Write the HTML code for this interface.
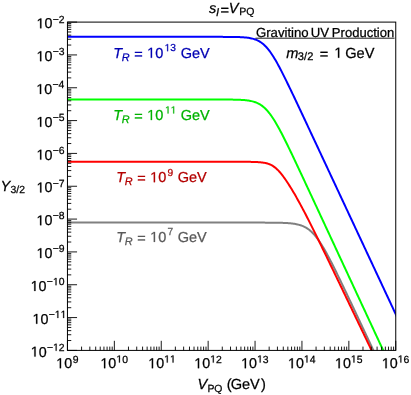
<!DOCTYPE html><html><head><meta charset="utf-8"><style>html,body{margin:0;padding:0;background:#fff}svg{display:block;will-change:transform}text{font-family:"Liberation Sans",sans-serif;text-rendering:geometricPrecision}.i{font-style:italic}</style></head><body>
<svg width="411" height="395" viewBox="0 0 411 395">
<rect width="411" height="395" fill="#fff"/>
<defs><clipPath id="c"><rect x="67.45" y="22.10" width="328.30" height="328.30"/></clipPath></defs>
<polyline clip-path="url(#c)" fill="none" stroke="#808080" stroke-width="2.0" stroke-linejoin="round" points="67.45,222.60 68.45,222.60 69.45,222.60 70.45,222.60 71.45,222.60 72.45,222.60 73.45,222.60 74.45,222.60 75.45,222.60 76.45,222.60 77.45,222.60 78.45,222.60 79.45,222.60 80.45,222.60 81.45,222.60 82.45,222.60 83.45,222.60 84.45,222.60 85.45,222.60 86.45,222.60 87.45,222.60 88.45,222.60 89.45,222.60 90.45,222.60 91.45,222.60 92.45,222.60 93.45,222.60 94.45,222.60 95.45,222.60 96.45,222.60 97.45,222.60 98.45,222.60 99.45,222.60 100.45,222.60 101.45,222.60 102.45,222.60 103.45,222.60 104.45,222.60 105.45,222.60 106.45,222.60 107.45,222.60 108.45,222.60 109.45,222.60 110.45,222.60 111.45,222.60 112.45,222.60 113.45,222.60 114.45,222.60 115.45,222.60 116.45,222.60 117.45,222.60 118.45,222.60 119.45,222.60 120.45,222.60 121.45,222.60 122.45,222.60 123.45,222.60 124.45,222.60 125.45,222.60 126.45,222.60 127.45,222.60 128.45,222.60 129.45,222.60 130.45,222.60 131.45,222.60 132.45,222.60 133.45,222.60 134.45,222.60 135.45,222.60 136.45,222.60 137.45,222.60 138.45,222.60 139.45,222.60 140.45,222.60 141.45,222.60 142.45,222.60 143.45,222.60 144.45,222.60 145.45,222.60 146.45,222.60 147.45,222.60 148.45,222.60 149.45,222.60 150.45,222.60 151.45,222.60 152.45,222.60 153.45,222.60 154.45,222.60 155.45,222.60 156.45,222.60 157.45,222.60 158.45,222.60 159.45,222.60 160.45,222.60 161.45,222.60 162.45,222.60 163.45,222.60 164.45,222.60 165.45,222.60 166.45,222.60 167.45,222.60 168.45,222.60 169.45,222.60 170.45,222.60 171.45,222.60 172.45,222.60 173.45,222.60 174.45,222.60 175.45,222.60 176.45,222.60 177.45,222.60 178.45,222.60 179.45,222.60 180.45,222.60 181.45,222.60 182.45,222.60 183.45,222.60 184.45,222.60 185.45,222.60 186.45,222.60 187.45,222.60 188.45,222.60 189.45,222.60 190.45,222.60 191.45,222.60 192.45,222.60 193.45,222.60 194.45,222.60 195.45,222.60 196.45,222.60 197.45,222.60 198.45,222.60 199.45,222.60 200.45,222.60 201.45,222.60 202.45,222.60 203.45,222.60 204.45,222.60 205.45,222.60 206.45,222.60 207.45,222.60 208.45,222.60 209.45,222.60 210.45,222.60 211.45,222.60 212.45,222.60 213.45,222.60 214.45,222.60 215.45,222.60 216.45,222.60 217.45,222.60 218.45,222.60 219.45,222.60 220.45,222.60 221.45,222.60 222.45,222.60 223.45,222.60 224.45,222.60 225.45,222.60 226.45,222.60 227.45,222.60 228.45,222.60 229.45,222.60 230.45,222.60 231.45,222.60 232.45,222.60 233.45,222.60 234.45,222.60 235.45,222.60 236.45,222.60 237.45,222.60 238.45,222.60 239.45,222.60 240.45,222.60 241.45,222.60 242.45,222.60 243.45,222.60 244.45,222.60 245.45,222.60 246.45,222.60 247.45,222.60 248.45,222.60 249.45,222.60 250.45,222.60 251.45,222.60 252.45,222.60 253.45,222.61 254.45,222.61 255.45,222.61 256.45,222.61 257.45,222.61 258.45,222.61 259.45,222.61 260.45,222.61 261.45,222.62 262.45,222.62 263.45,222.62 264.45,222.62 265.45,222.63 266.45,222.63 267.45,222.63 268.45,222.64 269.45,222.64 270.45,222.65 271.45,222.66 272.45,222.67 273.45,222.68 274.45,222.69 275.45,222.70 276.45,222.71 277.45,222.73 278.45,222.75 279.45,222.77 280.45,222.79 281.45,222.82 282.45,222.85 283.45,222.89 284.45,222.93 285.45,222.98 286.45,223.03 287.45,223.09 288.45,223.16 289.45,223.24 290.45,223.33 291.45,223.43 292.45,223.55 293.45,223.68 294.45,223.82 295.45,223.99 296.45,224.18 297.45,224.40 298.45,224.64 299.45,224.91 300.45,225.22 301.45,225.56 302.45,225.94 303.45,226.37 304.45,226.84 305.45,227.37 306.45,227.95 307.45,228.59 308.45,229.28 309.45,230.05 310.45,230.88 311.45,231.78 312.45,232.75 313.45,233.79 314.45,234.90 315.45,236.08 316.45,237.33 317.45,238.65 318.45,240.03 319.45,241.48 320.45,242.99 321.45,244.55 322.45,246.17 323.45,247.84 324.45,249.56 325.45,251.31 326.45,253.11 327.45,254.94 328.45,256.80 329.45,258.70 330.45,260.61 331.45,262.56 332.45,264.52 333.45,266.50 334.45,268.50 335.45,270.52 336.45,272.54 337.45,274.58 338.45,276.63 339.45,278.69 340.45,280.75 341.45,282.83 342.45,284.91 343.45,286.99 344.45,289.08 345.45,291.18 346.45,293.27 347.45,295.37 348.45,297.48 349.45,299.58 350.45,301.69 351.45,303.80 352.45,305.92 353.45,308.03 354.45,310.14 355.45,312.26 356.45,314.38 357.45,316.50 358.45,318.61 359.45,320.73 360.45,322.85 361.45,324.97 362.45,327.09 363.45,329.22 364.45,331.34 365.45,333.46 366.45,335.58 367.45,337.70 368.45,339.83 369.45,341.95 370.45,344.07 371.45,346.20 372.45,348.32 373.45,350.44 374.45,352.57 375.45,354.69 376.45,356.81 377.45,358.94 378.45,361.06 379.45,363.18 380.45,365.31 381.45,367.43 382.45,369.55 383.45,371.68 384.45,373.80 385.45,375.93 386.45,378.05 387.45,380.17 388.45,382.30 389.45,384.42 390.45,386.55 391.45,388.67 392.45,390.79 393.45,392.92 394.45,395.04 395.45,397.17 396.45,399.29 397.45,401.41 398.45,403.54 399.45,405.66 400.45,407.79 401.45,409.91 402.45,412.03 403.45,414.16 404.45,416.28 405.45,418.41 406.45,420.53 407.45,422.65 408.45,424.78 409.45,426.90 410.45,429.03 411.45,431.15 412.45,433.27 413.45,435.40 414.45,437.52 415.45,439.65"/>
<polyline clip-path="url(#c)" fill="none" stroke="#ff0000" stroke-width="2.0" stroke-linejoin="round" points="67.45,161.70 68.45,161.70 69.45,161.70 70.45,161.70 71.45,161.70 72.45,161.70 73.45,161.70 74.45,161.70 75.45,161.70 76.45,161.70 77.45,161.70 78.45,161.70 79.45,161.70 80.45,161.70 81.45,161.70 82.45,161.70 83.45,161.70 84.45,161.70 85.45,161.70 86.45,161.70 87.45,161.70 88.45,161.70 89.45,161.70 90.45,161.70 91.45,161.70 92.45,161.70 93.45,161.70 94.45,161.70 95.45,161.70 96.45,161.70 97.45,161.70 98.45,161.70 99.45,161.70 100.45,161.70 101.45,161.70 102.45,161.70 103.45,161.70 104.45,161.70 105.45,161.70 106.45,161.70 107.45,161.70 108.45,161.70 109.45,161.70 110.45,161.70 111.45,161.70 112.45,161.70 113.45,161.70 114.45,161.70 115.45,161.70 116.45,161.70 117.45,161.70 118.45,161.70 119.45,161.70 120.45,161.70 121.45,161.70 122.45,161.70 123.45,161.70 124.45,161.70 125.45,161.70 126.45,161.70 127.45,161.70 128.45,161.70 129.45,161.70 130.45,161.70 131.45,161.70 132.45,161.70 133.45,161.70 134.45,161.70 135.45,161.70 136.45,161.70 137.45,161.70 138.45,161.70 139.45,161.70 140.45,161.70 141.45,161.70 142.45,161.70 143.45,161.70 144.45,161.70 145.45,161.70 146.45,161.70 147.45,161.70 148.45,161.70 149.45,161.70 150.45,161.70 151.45,161.70 152.45,161.70 153.45,161.70 154.45,161.70 155.45,161.70 156.45,161.70 157.45,161.70 158.45,161.70 159.45,161.70 160.45,161.70 161.45,161.70 162.45,161.70 163.45,161.70 164.45,161.70 165.45,161.70 166.45,161.70 167.45,161.70 168.45,161.70 169.45,161.70 170.45,161.70 171.45,161.70 172.45,161.70 173.45,161.70 174.45,161.70 175.45,161.70 176.45,161.70 177.45,161.70 178.45,161.70 179.45,161.70 180.45,161.70 181.45,161.70 182.45,161.70 183.45,161.70 184.45,161.70 185.45,161.70 186.45,161.70 187.45,161.70 188.45,161.70 189.45,161.70 190.45,161.70 191.45,161.70 192.45,161.70 193.45,161.70 194.45,161.70 195.45,161.70 196.45,161.70 197.45,161.70 198.45,161.70 199.45,161.70 200.45,161.70 201.45,161.70 202.45,161.70 203.45,161.70 204.45,161.70 205.45,161.70 206.45,161.70 207.45,161.70 208.45,161.70 209.45,161.70 210.45,161.70 211.45,161.70 212.45,161.70 213.45,161.70 214.45,161.70 215.45,161.70 216.45,161.70 217.45,161.70 218.45,161.71 219.45,161.71 220.45,161.71 221.45,161.71 222.45,161.71 223.45,161.71 224.45,161.71 225.45,161.71 226.45,161.71 227.45,161.71 228.45,161.71 229.45,161.72 230.45,161.72 231.45,161.72 232.45,161.72 233.45,161.72 234.45,161.73 235.45,161.73 236.45,161.73 237.45,161.74 238.45,161.74 239.45,161.75 240.45,161.75 241.45,161.76 242.45,161.76 243.45,161.77 244.45,161.78 245.45,161.79 246.45,161.80 247.45,161.81 248.45,161.83 249.45,161.85 250.45,161.86 251.45,161.89 252.45,161.91 253.45,161.94 254.45,161.97 255.45,162.01 256.45,162.06 257.45,162.11 258.45,162.17 259.45,162.25 260.45,162.33 261.45,162.43 262.45,162.55 263.45,162.69 264.45,162.86 265.45,163.06 266.45,163.29 267.45,163.56 268.45,163.87 269.45,164.24 270.45,164.67 271.45,165.16 272.45,165.72 273.45,166.35 274.45,167.06 275.45,167.84 276.45,168.71 277.45,169.65 278.45,170.67 279.45,171.76 280.45,172.91 281.45,174.13 282.45,175.40 283.45,176.73 284.45,178.10 285.45,179.52 286.45,180.98 287.45,182.48 288.45,184.02 289.45,185.59 290.45,187.19 291.45,188.82 292.45,190.48 293.45,192.16 294.45,193.87 295.45,195.61 296.45,197.37 297.45,199.15 298.45,200.95 299.45,202.77 300.45,204.62 301.45,206.48 302.45,208.35 303.45,210.25 304.45,212.16 305.45,214.08 306.45,216.02 307.45,217.96 308.45,219.92 309.45,221.90 310.45,223.88 311.45,225.87 312.45,227.86 313.45,229.87 314.45,231.88 315.45,233.90 316.45,235.93 317.45,237.96 318.45,240.00 319.45,242.04 320.45,244.08 321.45,246.13 322.45,248.19 323.45,250.24 324.45,252.30 325.45,254.36 326.45,256.43 327.45,258.49 328.45,260.56 329.45,262.63 330.45,264.70 331.45,266.77 332.45,268.85 333.45,270.92 334.45,273.00 335.45,275.08 336.45,277.15 337.45,279.23 338.45,281.31 339.45,283.39 340.45,285.47 341.45,287.55 342.45,289.64 343.45,291.72 344.45,293.80 345.45,295.88 346.45,297.97 347.45,300.05 348.45,302.14 349.45,304.22 350.45,306.30 351.45,308.39 352.45,310.47 353.45,312.56 354.45,314.64 355.45,316.73 356.45,318.81 357.45,320.90 358.45,322.99 359.45,325.07 360.45,327.16 361.45,329.24 362.45,331.33 363.45,333.41 364.45,335.50 365.45,337.59 366.45,339.67 367.45,341.76 368.45,343.84 369.45,345.93 370.45,348.02 371.45,350.10 372.45,352.19 373.45,354.27 374.45,356.36 375.45,358.45 376.45,360.53 377.45,362.62 378.45,364.71 379.45,366.79 380.45,368.88 381.45,370.97 382.45,373.05 383.45,375.14 384.45,377.22 385.45,379.31 386.45,381.40 387.45,383.48 388.45,385.57 389.45,387.66 390.45,389.74 391.45,391.83 392.45,393.91 393.45,396.00 394.45,398.09 395.45,400.17 396.45,402.26 397.45,404.35 398.45,406.43 399.45,408.52 400.45,410.61 401.45,412.69 402.45,414.78 403.45,416.87 404.45,418.95 405.45,421.04 406.45,423.12 407.45,425.21 408.45,427.30 409.45,429.38 410.45,431.47 411.45,433.56 412.45,435.64 413.45,437.73 414.45,439.82 415.45,441.90"/>
<polyline clip-path="url(#c)" fill="none" stroke="#00ff00" stroke-width="2.0" stroke-linejoin="round" points="67.45,99.50 68.45,99.50 69.45,99.50 70.45,99.50 71.45,99.50 72.45,99.50 73.45,99.50 74.45,99.50 75.45,99.50 76.45,99.50 77.45,99.50 78.45,99.50 79.45,99.50 80.45,99.50 81.45,99.50 82.45,99.50 83.45,99.50 84.45,99.50 85.45,99.50 86.45,99.50 87.45,99.50 88.45,99.50 89.45,99.50 90.45,99.50 91.45,99.50 92.45,99.50 93.45,99.50 94.45,99.50 95.45,99.50 96.45,99.50 97.45,99.50 98.45,99.50 99.45,99.50 100.45,99.50 101.45,99.50 102.45,99.50 103.45,99.50 104.45,99.50 105.45,99.50 106.45,99.50 107.45,99.50 108.45,99.50 109.45,99.50 110.45,99.50 111.45,99.50 112.45,99.50 113.45,99.50 114.45,99.50 115.45,99.50 116.45,99.50 117.45,99.50 118.45,99.50 119.45,99.50 120.45,99.50 121.45,99.50 122.45,99.50 123.45,99.50 124.45,99.50 125.45,99.50 126.45,99.50 127.45,99.50 128.45,99.50 129.45,99.50 130.45,99.50 131.45,99.50 132.45,99.50 133.45,99.50 134.45,99.50 135.45,99.50 136.45,99.50 137.45,99.50 138.45,99.50 139.45,99.50 140.45,99.50 141.45,99.50 142.45,99.50 143.45,99.50 144.45,99.50 145.45,99.50 146.45,99.50 147.45,99.50 148.45,99.50 149.45,99.50 150.45,99.50 151.45,99.50 152.45,99.50 153.45,99.50 154.45,99.50 155.45,99.50 156.45,99.50 157.45,99.50 158.45,99.50 159.45,99.50 160.45,99.50 161.45,99.50 162.45,99.50 163.45,99.50 164.45,99.50 165.45,99.50 166.45,99.50 167.45,99.50 168.45,99.50 169.45,99.50 170.45,99.50 171.45,99.50 172.45,99.50 173.45,99.50 174.45,99.50 175.45,99.50 176.45,99.50 177.45,99.50 178.45,99.50 179.45,99.50 180.45,99.50 181.45,99.50 182.45,99.50 183.45,99.50 184.45,99.50 185.45,99.50 186.45,99.50 187.45,99.50 188.45,99.50 189.45,99.50 190.45,99.50 191.45,99.50 192.45,99.50 193.45,99.50 194.45,99.50 195.45,99.50 196.45,99.50 197.45,99.50 198.45,99.50 199.45,99.50 200.45,99.50 201.45,99.50 202.45,99.50 203.45,99.50 204.45,99.50 205.45,99.50 206.45,99.50 207.45,99.50 208.45,99.50 209.45,99.50 210.45,99.51 211.45,99.51 212.45,99.51 213.45,99.51 214.45,99.51 215.45,99.51 216.45,99.51 217.45,99.51 218.45,99.52 219.45,99.52 220.45,99.52 221.45,99.52 222.45,99.53 223.45,99.53 224.45,99.54 225.45,99.54 226.45,99.55 227.45,99.56 228.45,99.57 229.45,99.58 230.45,99.59 231.45,99.60 232.45,99.61 233.45,99.63 234.45,99.65 235.45,99.68 236.45,99.70 237.45,99.73 238.45,99.77 239.45,99.81 240.45,99.86 241.45,99.91 242.45,99.97 243.45,100.04 244.45,100.12 245.45,100.22 246.45,100.33 247.45,100.45 248.45,100.59 249.45,100.75 250.45,100.93 251.45,101.14 252.45,101.37 253.45,101.64 254.45,101.94 255.45,102.28 256.45,102.67 257.45,103.10 258.45,103.58 259.45,104.12 260.45,104.72 261.45,105.38 262.45,106.11 263.45,106.91 264.45,107.78 265.45,108.72 266.45,109.75 267.45,110.84 268.45,112.02 269.45,113.27 270.45,114.59 271.45,115.99 272.45,117.45 273.45,118.98 274.45,120.57 275.45,122.22 276.45,123.92 277.45,125.66 278.45,127.46 279.45,129.29 280.45,131.16 281.45,133.07 282.45,135.00 283.45,136.96 284.45,138.95 285.45,140.95 286.45,142.97 287.45,145.01 288.45,147.07 289.45,149.13 290.45,151.21 291.45,153.30 292.45,155.39 293.45,157.50 294.45,159.61 295.45,161.72 296.45,163.84 297.45,165.97 298.45,168.10 299.45,170.23 300.45,172.36 301.45,174.50 302.45,176.64 303.45,178.78 304.45,180.92 305.45,183.06 306.45,185.21 307.45,187.36 308.45,189.50 309.45,191.65 310.45,193.80 311.45,195.95 312.45,198.10 313.45,200.25 314.45,202.40 315.45,204.55 316.45,206.70 317.45,208.85 318.45,211.00 319.45,213.15 320.45,215.31 321.45,217.46 322.45,219.61 323.45,221.76 324.45,223.92 325.45,226.07 326.45,228.22 327.45,230.37 328.45,232.53 329.45,234.68 330.45,236.83 331.45,238.98 332.45,241.14 333.45,243.29 334.45,245.44 335.45,247.59 336.45,249.75 337.45,251.90 338.45,254.05 339.45,256.21 340.45,258.36 341.45,260.51 342.45,262.67 343.45,264.82 344.45,266.97 345.45,269.12 346.45,271.28 347.45,273.43 348.45,275.58 349.45,277.74 350.45,279.89 351.45,282.04 352.45,284.20 353.45,286.35 354.45,288.50 355.45,290.65 356.45,292.81 357.45,294.96 358.45,297.11 359.45,299.27 360.45,301.42 361.45,303.57 362.45,305.73 363.45,307.88 364.45,310.03 365.45,312.18 366.45,314.34 367.45,316.49 368.45,318.64 369.45,320.80 370.45,322.95 371.45,325.10 372.45,327.26 373.45,329.41 374.45,331.56 375.45,333.71 376.45,335.87 377.45,338.02 378.45,340.17 379.45,342.33 380.45,344.48 381.45,346.63 382.45,348.79 383.45,350.94 384.45,353.09 385.45,355.24 386.45,357.40 387.45,359.55 388.45,361.70 389.45,363.86 390.45,366.01 391.45,368.16 392.45,370.32 393.45,372.47 394.45,374.62 395.45,376.77 396.45,378.93 397.45,381.08 398.45,383.23 399.45,385.39 400.45,387.54 401.45,389.69 402.45,391.85 403.45,394.00 404.45,396.15 405.45,398.30 406.45,400.46 407.45,402.61 408.45,404.76 409.45,406.92 410.45,409.07 411.45,411.22 412.45,413.38 413.45,415.53 414.45,417.68 415.45,419.83"/>
<polyline clip-path="url(#c)" fill="none" stroke="#0000ff" stroke-width="2.0" stroke-linejoin="round" points="67.45,36.85 68.45,36.85 69.45,36.85 70.45,36.85 71.45,36.85 72.45,36.85 73.45,36.85 74.45,36.85 75.45,36.85 76.45,36.85 77.45,36.85 78.45,36.85 79.45,36.85 80.45,36.85 81.45,36.85 82.45,36.85 83.45,36.85 84.45,36.85 85.45,36.85 86.45,36.85 87.45,36.85 88.45,36.85 89.45,36.85 90.45,36.85 91.45,36.85 92.45,36.85 93.45,36.85 94.45,36.85 95.45,36.85 96.45,36.85 97.45,36.85 98.45,36.85 99.45,36.85 100.45,36.85 101.45,36.85 102.45,36.85 103.45,36.85 104.45,36.85 105.45,36.85 106.45,36.85 107.45,36.85 108.45,36.85 109.45,36.85 110.45,36.85 111.45,36.85 112.45,36.85 113.45,36.85 114.45,36.85 115.45,36.85 116.45,36.85 117.45,36.85 118.45,36.85 119.45,36.85 120.45,36.85 121.45,36.85 122.45,36.85 123.45,36.85 124.45,36.85 125.45,36.85 126.45,36.85 127.45,36.85 128.45,36.85 129.45,36.85 130.45,36.85 131.45,36.85 132.45,36.85 133.45,36.85 134.45,36.85 135.45,36.85 136.45,36.85 137.45,36.85 138.45,36.85 139.45,36.85 140.45,36.85 141.45,36.85 142.45,36.85 143.45,36.85 144.45,36.85 145.45,36.85 146.45,36.85 147.45,36.85 148.45,36.85 149.45,36.85 150.45,36.85 151.45,36.85 152.45,36.85 153.45,36.85 154.45,36.85 155.45,36.85 156.45,36.85 157.45,36.85 158.45,36.85 159.45,36.85 160.45,36.85 161.45,36.85 162.45,36.85 163.45,36.85 164.45,36.85 165.45,36.85 166.45,36.85 167.45,36.85 168.45,36.85 169.45,36.85 170.45,36.85 171.45,36.85 172.45,36.85 173.45,36.85 174.45,36.85 175.45,36.85 176.45,36.85 177.45,36.85 178.45,36.85 179.45,36.85 180.45,36.85 181.45,36.85 182.45,36.85 183.45,36.85 184.45,36.85 185.45,36.85 186.45,36.85 187.45,36.85 188.45,36.85 189.45,36.85 190.45,36.85 191.45,36.85 192.45,36.85 193.45,36.85 194.45,36.85 195.45,36.85 196.45,36.85 197.45,36.85 198.45,36.85 199.45,36.85 200.45,36.85 201.45,36.85 202.45,36.85 203.45,36.85 204.45,36.85 205.45,36.85 206.45,36.85 207.45,36.85 208.45,36.85 209.45,36.85 210.45,36.85 211.45,36.85 212.45,36.85 213.45,36.86 214.45,36.86 215.45,36.86 216.45,36.86 217.45,36.86 218.45,36.86 219.45,36.86 220.45,36.87 221.45,36.87 222.45,36.87 223.45,36.88 224.45,36.88 225.45,36.88 226.45,36.89 227.45,36.90 228.45,36.90 229.45,36.91 230.45,36.92 231.45,36.93 232.45,36.95 233.45,36.96 234.45,36.98 235.45,37.00 236.45,37.02 237.45,37.05 238.45,37.08 239.45,37.12 240.45,37.16 241.45,37.21 242.45,37.27 243.45,37.34 244.45,37.41 245.45,37.50 246.45,37.61 247.45,37.72 248.45,37.86 249.45,38.01 250.45,38.19 251.45,38.40 252.45,38.63 253.45,38.90 254.45,39.20 255.45,39.54 256.45,39.93 257.45,40.37 258.45,40.86 259.45,41.41 260.45,42.03 261.45,42.71 262.45,43.46 263.45,44.29 264.45,45.19 265.45,46.17 266.45,47.23 267.45,48.37 268.45,49.59 269.45,50.89 270.45,52.26 271.45,53.70 272.45,55.21 273.45,56.79 274.45,58.42 275.45,60.11 276.45,61.85 277.45,63.63 278.45,65.46 279.45,67.33 280.45,69.23 281.45,71.15 282.45,73.11 283.45,75.09 284.45,77.09 285.45,79.11 286.45,81.14 287.45,83.19 288.45,85.25 289.45,87.32 290.45,89.40 291.45,91.48 292.45,93.58 293.45,95.68 294.45,97.78 295.45,99.89 296.45,102.01 297.45,104.13 298.45,106.25 299.45,108.37 300.45,110.50 301.45,112.62 302.45,114.75 303.45,116.88 304.45,119.01 305.45,121.15 306.45,123.28 307.45,125.41 308.45,127.55 309.45,129.68 310.45,131.82 311.45,133.96 312.45,136.09 313.45,138.23 314.45,140.37 315.45,142.50 316.45,144.64 317.45,146.78 318.45,148.92 319.45,151.06 320.45,153.19 321.45,155.33 322.45,157.47 323.45,159.61 324.45,161.75 325.45,163.89 326.45,166.03 327.45,168.16 328.45,170.30 329.45,172.44 330.45,174.58 331.45,176.72 332.45,178.86 333.45,181.00 334.45,183.14 335.45,185.28 336.45,187.41 337.45,189.55 338.45,191.69 339.45,193.83 340.45,195.97 341.45,198.11 342.45,200.25 343.45,202.39 344.45,204.53 345.45,206.67 346.45,208.80 347.45,210.94 348.45,213.08 349.45,215.22 350.45,217.36 351.45,219.50 352.45,221.64 353.45,223.78 354.45,225.92 355.45,228.06 356.45,230.19 357.45,232.33 358.45,234.47 359.45,236.61 360.45,238.75 361.45,240.89 362.45,243.03 363.45,245.17 364.45,247.31 365.45,249.45 366.45,251.58 367.45,253.72 368.45,255.86 369.45,258.00 370.45,260.14 371.45,262.28 372.45,264.42 373.45,266.56 374.45,268.70 375.45,270.84 376.45,272.97 377.45,275.11 378.45,277.25 379.45,279.39 380.45,281.53 381.45,283.67 382.45,285.81 383.45,287.95 384.45,290.09 385.45,292.23 386.45,294.36 387.45,296.50 388.45,298.64 389.45,300.78 390.45,302.92 391.45,305.06 392.45,307.20 393.45,309.34 394.45,311.48 395.45,313.62 396.45,315.75 397.45,317.89 398.45,320.03 399.45,322.17 400.45,324.31 401.45,326.45 402.45,328.59 403.45,330.73 404.45,332.87 405.45,335.01 406.45,337.14 407.45,339.28 408.45,341.42 409.45,343.56 410.45,345.70 411.45,347.84 412.45,349.98 413.45,352.12 414.45,354.26 415.45,356.40"/>
<rect x="67.45" y="22.10" width="328.30" height="328.30" fill="none" stroke="#000" stroke-width="1"/>
<path d="M67.45 22.10h9.6M67.45 45.05h3.8M67.45 39.27h3.8M67.45 35.16h3.8M67.45 31.98h3.8M67.45 29.38h3.8M67.45 27.19h3.8M67.45 25.28h3.8M67.45 23.60h3.8M67.45 54.93h9.6M67.45 77.88h3.8M67.45 72.10h3.8M67.45 67.99h3.8M67.45 64.81h3.8M67.45 62.21h3.8M67.45 60.02h3.8M67.45 58.11h3.8M67.45 56.43h3.8M67.45 87.76h9.6M67.45 110.71h3.8M67.45 104.93h3.8M67.45 100.82h3.8M67.45 97.64h3.8M67.45 95.04h3.8M67.45 92.85h3.8M67.45 90.94h3.8M67.45 89.26h3.8M67.45 120.59h9.6M67.45 143.54h3.8M67.45 137.76h3.8M67.45 133.65h3.8M67.45 130.47h3.8M67.45 127.87h3.8M67.45 125.68h3.8M67.45 123.77h3.8M67.45 122.09h3.8M67.45 153.42h9.6M67.45 176.37h3.8M67.45 170.59h3.8M67.45 166.48h3.8M67.45 163.30h3.8M67.45 160.70h3.8M67.45 158.51h3.8M67.45 156.60h3.8M67.45 154.92h3.8M67.45 186.25h9.6M67.45 209.20h3.8M67.45 203.42h3.8M67.45 199.31h3.8M67.45 196.13h3.8M67.45 193.53h3.8M67.45 191.34h3.8M67.45 189.43h3.8M67.45 187.75h3.8M67.45 219.08h9.6M67.45 242.03h3.8M67.45 236.25h3.8M67.45 232.14h3.8M67.45 228.96h3.8M67.45 226.36h3.8M67.45 224.17h3.8M67.45 222.26h3.8M67.45 220.58h3.8M67.45 251.91h9.6M67.45 274.86h3.8M67.45 269.08h3.8M67.45 264.97h3.8M67.45 261.79h3.8M67.45 259.19h3.8M67.45 257.00h3.8M67.45 255.09h3.8M67.45 253.41h3.8M67.45 284.74h9.6M67.45 307.69h3.8M67.45 301.91h3.8M67.45 297.80h3.8M67.45 294.62h3.8M67.45 292.02h3.8M67.45 289.83h3.8M67.45 287.92h3.8M67.45 286.24h3.8M67.45 317.57h9.6M67.45 340.52h3.8M67.45 334.74h3.8M67.45 330.63h3.8M67.45 327.45h3.8M67.45 324.85h3.8M67.45 322.66h3.8M67.45 320.75h3.8M67.45 319.07h3.8M67.45 350.40h9.6M67.45 350.40v-9.6M81.57 350.40v-3.8M89.83 350.40v-3.8M95.69 350.40v-3.8M100.23 350.40v-3.8M103.95 350.40v-3.8M107.09 350.40v-3.8M109.80 350.40v-3.8M112.20 350.40v-3.8M114.35 350.40v-9.6M128.47 350.40v-3.8M136.73 350.40v-3.8M142.59 350.40v-3.8M147.13 350.40v-3.8M150.85 350.40v-3.8M153.99 350.40v-3.8M156.70 350.40v-3.8M159.10 350.40v-3.8M161.25 350.40v-9.6M175.37 350.40v-3.8M183.63 350.40v-3.8M189.49 350.40v-3.8M194.03 350.40v-3.8M197.75 350.40v-3.8M200.89 350.40v-3.8M203.60 350.40v-3.8M206.00 350.40v-3.8M208.15 350.40v-9.6M222.27 350.40v-3.8M230.53 350.40v-3.8M236.39 350.40v-3.8M240.93 350.40v-3.8M244.65 350.40v-3.8M247.79 350.40v-3.8M250.50 350.40v-3.8M252.90 350.40v-3.8M255.05 350.40v-9.6M269.17 350.40v-3.8M277.43 350.40v-3.8M283.29 350.40v-3.8M287.83 350.40v-3.8M291.55 350.40v-3.8M294.69 350.40v-3.8M297.40 350.40v-3.8M299.80 350.40v-3.8M301.95 350.40v-9.6M316.07 350.40v-3.8M324.33 350.40v-3.8M330.19 350.40v-3.8M334.73 350.40v-3.8M338.45 350.40v-3.8M341.59 350.40v-3.8M344.30 350.40v-3.8M346.70 350.40v-3.8M348.85 350.40v-9.6M362.97 350.40v-3.8M371.23 350.40v-3.8M377.09 350.40v-3.8M381.63 350.40v-3.8M385.35 350.40v-3.8M388.49 350.40v-3.8M391.20 350.40v-3.8M393.60 350.40v-3.8M395.75 350.40v-9.6" stroke="#000" stroke-width="0.9" fill="none"/>
<g fill="#000" stroke="#000" stroke-width="0.25">
<text x="52.77" y="22.50" font-size="10.40">−2</text>
<path transform="translate(36.53 28.30) scale(0.00698)" d="M515 0V-1237L197 -1010V-1180L530 -1409H696V0Z" stroke-width="35.8"/><text x="44.48" y="28.30" font-size="14.30">0</text>
<text x="52.70" y="55.33" font-size="10.40">−3</text>
<path transform="translate(36.47 61.13) scale(0.00698)" d="M515 0V-1237L197 -1010V-1180L530 -1409H696V0Z" stroke-width="35.8"/><text x="44.42" y="61.13" font-size="14.30">0</text>
<text x="52.55" y="88.16" font-size="10.40">−4</text>
<path transform="translate(36.31 93.96) scale(0.00698)" d="M515 0V-1237L197 -1010V-1180L530 -1409H696V0Z" stroke-width="35.8"/><text x="44.27" y="93.96" font-size="14.30">0</text>
<text x="52.68" y="120.99" font-size="10.40">−5</text>
<path transform="translate(36.44 126.79) scale(0.00698)" d="M515 0V-1237L197 -1010V-1180L530 -1409H696V0Z" stroke-width="35.8"/><text x="44.40" y="126.79" font-size="14.30">0</text>
<text x="52.70" y="153.82" font-size="10.40">−6</text>
<path transform="translate(36.47 159.62) scale(0.00698)" d="M515 0V-1237L197 -1010V-1180L530 -1409H696V0Z" stroke-width="35.8"/><text x="44.42" y="159.62" font-size="14.30">0</text>
<text x="52.77" y="186.65" font-size="10.40">−7</text>
<path transform="translate(36.53 192.45) scale(0.00698)" d="M515 0V-1237L197 -1010V-1180L530 -1409H696V0Z" stroke-width="35.8"/><text x="44.48" y="192.45" font-size="14.30">0</text>
<text x="52.69" y="219.48" font-size="10.40">−8</text>
<path transform="translate(36.46 225.28) scale(0.00698)" d="M515 0V-1237L197 -1010V-1180L530 -1409H696V0Z" stroke-width="35.8"/><text x="44.41" y="225.28" font-size="14.30">0</text>
<text x="52.74" y="252.31" font-size="10.40">−9</text>
<path transform="translate(36.50 258.11) scale(0.00698)" d="M515 0V-1237L197 -1010V-1180L530 -1409H696V0Z" stroke-width="35.8"/><text x="44.45" y="258.11" font-size="14.30">0</text>
<text x="46.86" y="285.14" font-size="10.40">−</text><path transform="translate(52.94 285.14) scale(0.00508)" d="M515 0V-1237L197 -1010V-1180L530 -1409H696V0Z" stroke-width="49.2"/><text x="58.72" y="285.14" font-size="10.40">0</text>
<path transform="translate(30.63 290.94) scale(0.00698)" d="M515 0V-1237L197 -1010V-1180L530 -1409H696V0Z" stroke-width="35.8"/><text x="38.58" y="290.94" font-size="14.30">0</text>
<text x="48.71" y="317.97" font-size="10.40">−</text><path transform="translate(54.78 317.97) scale(0.00508)" d="M515 0V-1237L197 -1010V-1180L530 -1409H696V0Z" stroke-width="49.2"/><path transform="translate(60.57 317.97) scale(0.00508)" d="M515 0V-1237L197 -1010V-1180L530 -1409H696V0Z" stroke-width="49.2"/>
<path transform="translate(32.47 323.77) scale(0.00698)" d="M515 0V-1237L197 -1010V-1180L530 -1409H696V0Z" stroke-width="35.8"/><text x="40.43" y="323.77" font-size="14.30">0</text>
<text x="46.98" y="350.80" font-size="10.40">−</text><path transform="translate(53.06 350.80) scale(0.00508)" d="M515 0V-1237L197 -1010V-1180L530 -1409H696V0Z" stroke-width="49.2"/><text x="58.84" y="350.80" font-size="10.40">2</text>
<path transform="translate(30.75 356.60) scale(0.00698)" d="M515 0V-1237L197 -1010V-1180L530 -1409H696V0Z" stroke-width="35.8"/><text x="38.70" y="356.60" font-size="14.30">0</text>
<path transform="translate(56.19 368.20) scale(0.00698)" d="M515 0V-1237L197 -1010V-1180L530 -1409H696V0Z" stroke-width="35.8"/><text x="64.14" y="368.20" font-size="14.30">0</text>
<text x="72.65" y="362.60" font-size="10.40">9</text>
<path transform="translate(100.41 368.20) scale(0.00698)" d="M515 0V-1237L197 -1010V-1180L530 -1409H696V0Z" stroke-width="35.8"/><text x="108.36" y="368.20" font-size="14.30">0</text>
<path transform="translate(116.35 362.60) scale(0.00508)" d="M515 0V-1237L197 -1010V-1180L530 -1409H696V0Z" stroke-width="49.2"/><text x="122.14" y="362.60" font-size="10.40">0</text>
<path transform="translate(148.23 368.20) scale(0.00698)" d="M515 0V-1237L197 -1010V-1180L530 -1409H696V0Z" stroke-width="35.8"/><text x="156.18" y="368.20" font-size="14.30">0</text>
<path transform="translate(164.18 362.60) scale(0.00508)" d="M515 0V-1237L197 -1010V-1180L530 -1409H696V0Z" stroke-width="49.2"/><path transform="translate(169.96 362.60) scale(0.00508)" d="M515 0V-1237L197 -1010V-1180L530 -1409H696V0Z" stroke-width="49.2"/>
<path transform="translate(194.27 368.20) scale(0.00698)" d="M515 0V-1237L197 -1010V-1180L530 -1409H696V0Z" stroke-width="35.8"/><text x="202.22" y="368.20" font-size="14.30">0</text>
<path transform="translate(210.21 362.60) scale(0.00508)" d="M515 0V-1237L197 -1010V-1180L530 -1409H696V0Z" stroke-width="49.2"/><text x="216.00" y="362.60" font-size="10.40">2</text>
<path transform="translate(241.13 368.20) scale(0.00698)" d="M515 0V-1237L197 -1010V-1180L530 -1409H696V0Z" stroke-width="35.8"/><text x="249.09" y="368.20" font-size="14.30">0</text>
<path transform="translate(257.08 362.60) scale(0.00508)" d="M515 0V-1237L197 -1010V-1180L530 -1409H696V0Z" stroke-width="49.2"/><text x="262.86" y="362.60" font-size="10.40">3</text>
<path transform="translate(287.96 368.20) scale(0.00698)" d="M515 0V-1237L197 -1010V-1180L530 -1409H696V0Z" stroke-width="35.8"/><text x="295.91" y="368.20" font-size="14.30">0</text>
<path transform="translate(303.90 362.60) scale(0.00508)" d="M515 0V-1237L197 -1010V-1180L530 -1409H696V0Z" stroke-width="49.2"/><text x="309.69" y="362.60" font-size="10.40">4</text>
<path transform="translate(334.92 368.20) scale(0.00698)" d="M515 0V-1237L197 -1010V-1180L530 -1409H696V0Z" stroke-width="35.8"/><text x="342.88" y="368.20" font-size="14.30">0</text>
<path transform="translate(350.87 362.60) scale(0.00508)" d="M515 0V-1237L197 -1010V-1180L530 -1409H696V0Z" stroke-width="49.2"/><text x="356.65" y="362.60" font-size="10.40">5</text>
<path transform="translate(381.83 368.20) scale(0.00698)" d="M515 0V-1237L197 -1010V-1180L530 -1409H696V0Z" stroke-width="35.8"/><text x="389.79" y="368.20" font-size="14.30">0</text>
<path transform="translate(397.78 362.60) scale(0.00508)" d="M515 0V-1237L197 -1010V-1180L530 -1409H696V0Z" stroke-width="49.2"/><text x="403.56" y="362.60" font-size="10.40">6</text>
<text x="197.54" y="389.30" font-size="14.60" class="i">V</text>
<text x="207.45" y="391.60" font-size="10.40">PQ</text>
<text x="226.79" y="389.30" font-size="14.60">(</text>
<text x="230.67" y="389.30" font-size="14.60">GeV</text>
<text x="260.91" y="389.30" font-size="14.60">)</text>
<text x="0.48" y="190.70" font-size="14.60" class="i">Y</text>
<text x="10.50" y="193.20" font-size="10.40">3/2</text>
<text x="209.06" y="12.85" font-size="14.60" class="i">s</text>
<text x="215.95" y="15.75" font-size="11.40" class="i">I</text>
<text x="220.49" y="14.75" font-size="14.60" stroke-width="0.3">=</text>
<text x="228.84" y="12.85" font-size="14.60" class="i">V</text>
<text x="239.14" y="15.45" font-size="10.50">PQ</text>
<text x="255.94" y="36.70" font-size="13.20">Gravitino</text>
<text x="310.78" y="36.70" font-size="13.20">UV</text>
<text x="331.83" y="36.70" font-size="13.05">Production</text>
<path d="M255.5 38.2H394.5" stroke="#000" stroke-width="0.9"/>
<text x="286.26" y="57.70" font-size="14.60" class="i">m</text>
<text letter-spacing="0.15" x="297.78" y="60.20" font-size="11.10">3/2</text>
<text x="319.79" y="58.90" font-size="14.60" stroke-width="0.3">=</text>
<path transform="translate(334.30 57.70) scale(0.00713)" d="M515 0V-1237L197 -1010V-1180L530 -1409H696V0Z" stroke-width="35.1"/>
<text x="345.27" y="57.70" font-size="14.60">GeV</text>
</g>
<g fill="#0000b3" stroke="#0000b3" stroke-width="0.25"><text x="113.20" y="57.85" font-size="14.50" class="i">T</text></g>
<g fill="#0000b3" stroke="#0000b3" stroke-width="0.25"><text x="121.76" y="60.55" font-size="10.90" class="i">R</text></g>
<g fill="#0000b3" stroke="#0000b3" stroke-width="0.25"><text x="134.29" y="58.75" font-size="14.50" stroke-width="0.3">=</text></g>
<g fill="#0000b3" stroke="#0000b3" stroke-width="0.25"><path transform="translate(147.11 57.85) scale(0.00708)" d="M515 0V-1237L197 -1010V-1180L530 -1409H696V0Z" stroke-width="35.3"/><text x="155.17" y="57.85" font-size="14.50">0</text></g>
<g fill="#0000b3" stroke="#0000b3" stroke-width="0.25"><path transform="translate(164.62 51.15) scale(0.00498)" d="M515 0V-1237L197 -1010V-1180L530 -1409H696V0Z" stroke-width="50.2"/><text x="170.29" y="51.15" font-size="10.20">3</text></g>
<g fill="#0000b3" stroke="#0000b3" stroke-width="0.25"><text x="180.67" y="57.85" font-size="14.50">GeV</text></g>
<g fill="#00b300" stroke="#00b300" stroke-width="0.25"><text x="113.20" y="120.10" font-size="14.50" class="i">T</text></g>
<g fill="#00b300" stroke="#00b300" stroke-width="0.25"><text x="121.76" y="122.80" font-size="10.90" class="i">R</text></g>
<g fill="#00b300" stroke="#00b300" stroke-width="0.25"><text x="134.29" y="121.00" font-size="14.50" stroke-width="0.3">=</text></g>
<g fill="#00b300" stroke="#00b300" stroke-width="0.25"><path transform="translate(147.11 120.10) scale(0.00708)" d="M515 0V-1237L197 -1010V-1180L530 -1409H696V0Z" stroke-width="35.3"/><text x="155.17" y="120.10" font-size="14.50">0</text></g>
<g fill="#00b300" stroke="#00b300" stroke-width="0.25"><path transform="translate(165.02 113.40) scale(0.00498)" d="M515 0V-1237L197 -1010V-1180L530 -1409H696V0Z" stroke-width="50.2"/><path transform="translate(170.69 113.40) scale(0.00498)" d="M515 0V-1237L197 -1010V-1180L530 -1409H696V0Z" stroke-width="50.2"/></g>
<g fill="#00b300" stroke="#00b300" stroke-width="0.25"><text x="180.67" y="120.10" font-size="14.50">GeV</text></g>
<g fill="#b30000" stroke="#b30000" stroke-width="0.25"><text x="116.20" y="182.20" font-size="14.50" class="i">T</text></g>
<g fill="#b30000" stroke="#b30000" stroke-width="0.25"><text x="124.76" y="184.90" font-size="10.90" class="i">R</text></g>
<g fill="#b30000" stroke="#b30000" stroke-width="0.25"><text x="137.29" y="183.10" font-size="14.50" stroke-width="0.3">=</text></g>
<g fill="#b30000" stroke="#b30000" stroke-width="0.25"><path transform="translate(150.11 182.20) scale(0.00708)" d="M515 0V-1237L197 -1010V-1180L530 -1409H696V0Z" stroke-width="35.3"/><text x="158.17" y="182.20" font-size="14.50">0</text></g>
<g fill="#b30000" stroke="#b30000" stroke-width="0.25"><text x="167.62" y="175.50" font-size="10.20">9</text></g>
<g fill="#b30000" stroke="#b30000" stroke-width="0.25"><text x="177.67" y="182.20" font-size="14.50">GeV</text></g>
<g fill="#5a5a5a" stroke="#5a5a5a" stroke-width="0.25"><text x="116.20" y="241.90" font-size="14.50" class="i">T</text></g>
<g fill="#5a5a5a" stroke="#5a5a5a" stroke-width="0.25"><text x="124.76" y="244.60" font-size="10.90" class="i">R</text></g>
<g fill="#5a5a5a" stroke="#5a5a5a" stroke-width="0.25"><text x="137.29" y="242.80" font-size="14.50" stroke-width="0.3">=</text></g>
<g fill="#5a5a5a" stroke="#5a5a5a" stroke-width="0.25"><path transform="translate(150.11 241.90) scale(0.00708)" d="M515 0V-1237L197 -1010V-1180L530 -1409H696V0Z" stroke-width="35.3"/><text x="158.17" y="241.90" font-size="14.50">0</text></g>
<g fill="#5a5a5a" stroke="#5a5a5a" stroke-width="0.25"><text x="167.58" y="235.20" font-size="10.20">7</text></g>
<g fill="#5a5a5a" stroke="#5a5a5a" stroke-width="0.25"><text x="177.67" y="241.90" font-size="14.50">GeV</text></g>
</svg></body></html>
